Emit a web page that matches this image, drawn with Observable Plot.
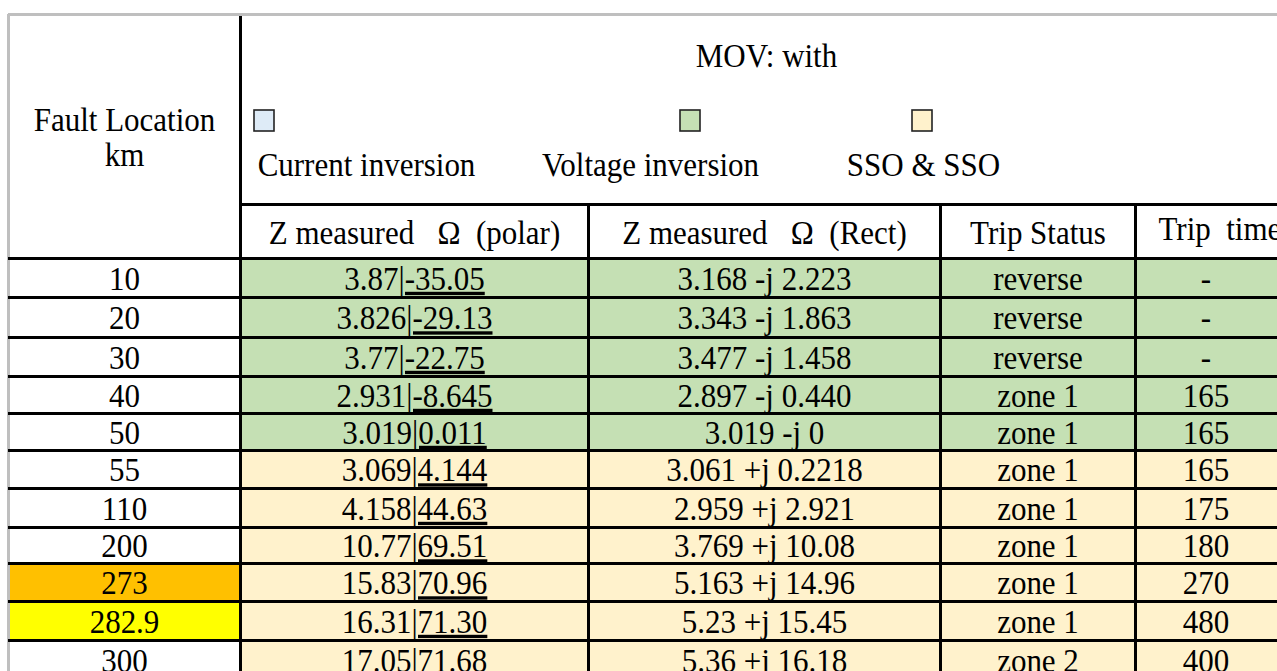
<!DOCTYPE html>
<html>
<head>
<meta charset="utf-8">
<script src="https://cdn.jsdelivr.net/npm/d3@7"></script>
<script src="https://cdn.jsdelivr.net/npm/@observablehq/plot@0.6"></script>
<style>
  html, body { margin: 0; padding: 0; background: #fff; overflow: hidden; }
  #chart svg { display: block; }
</style>
</head>
<body>
<div id="chart"></div>
<script>
// ---------- data ----------
const locations   = ["10", "20", "30", "40", "50", "55", "110", "200", "273", "282.9", "300"];
const polarMag    = ["3.87", "3.826", "3.77", "2.931", "3.019", "3.069", "4.158", "10.77", "15.83", "16.31", "17.05"];
const polarAngle  = ["-35.05", "-29.13", "-22.75", "-8.645", "0.011", "4.144", "44.63", "69.51", "70.96", "71.30", "71.68"];
const rectZ       = ["3.168 -j 2.223", "3.343 -j 1.863", "3.477 -j 1.458", "2.897 -j 0.440", "3.019 -j 0",
                     "3.061 +j 0.2218", "2.959 +j 2.921", "3.769 +j 10.08", "5.163 +j 14.96", "5.23 +j 15.45", "5.36 +j 16.18"];
const tripStatus  = ["reverse", "reverse", "reverse", "zone 1", "zone 1", "zone 1", "zone 1", "zone 1", "zone 1", "zone 1", "zone 2"];
const tripTime    = ["-", "-", "-", "165", "165", "165", "175", "180", "270", "480", "400"];
const rowMode     = ["Voltage inversion", "Voltage inversion", "Voltage inversion", "Voltage inversion", "Voltage inversion",
                     "SSO & SSO", "SSO & SSO", "SSO & SSO", "SSO & SSO", "SSO & SSO", "SSO & SSO"];
const legendLabels = ["Current inversion", "Voltage inversion", "SSO & SSO"];
const headerTitle  = "MOV: with";
const stubHeader   = ["Fault Location", "km"];
const colHeaders   = ["Z measured\u00a0\u00a0\u00a0Ω\u00a0\u00a0(polar)", "Z measured\u00a0\u00a0\u00a0Ω\u00a0\u00a0(Rect)", "Trip Status", "Trip\u00a0\u00a0time"];

// ---------- styles / layout ----------
const W = 1277, H = 671;
const modeColors = {"Current inversion": "#DEEBF7", "Voltage inversion": "#C5E0B4", "SSO & SSO": "#FFF2CC"};
const highlight = {"273": "#FFC000", "282.9": "#FFFF00"};
const colEdges = [8, 240, 588, 940, 1135, 1292];
const rowEdges = [258, 297, 337, 376, 413, 450, 488, 527, 563, 601, 640, 679];
const FS = 31;
const FONT = "'Liberation Serif', 'Times New Roman', serif";

const rows = locations.map((loc, i) => ({
  i, loc, polar: polarMag[i] + "|" + polarAngle[i], rect: rectZ[i],
  status: tripStatus[i], time: tripTime[i], mode: rowMode[i]
}));

// cells
const cells = [];
rows.forEach(r => {
  const y1 = rowEdges[r.i], y2 = rowEdges[r.i + 1];
  cells.push({x1: colEdges[0], x2: colEdges[1], y1, y2, fill: highlight[r.loc] || "#ffffff"});
  for (let j = 1; j < 5; j++) cells.push({x1: colEdges[j], x2: Math.min(colEdges[j + 1], W), y1, y2, fill: modeColors[r.mode]});
});

// texts
const texts = [];
const cx = j => (colEdges[j] + colEdges[j + 1]) / 2;
rows.forEach(r => {
  const cy = (rowEdges[r.i] + rowEdges[r.i + 1]) / 2 + 1;
  [r.loc, r.polar, r.rect, r.status, r.time].forEach((t, j) => texts.push({x: cx(j) - (j === 4 ? 8 : 0), y: cy, t, anchor: "middle"}));
});
texts.push({x: 124, y: 120, t: stubHeader[0], anchor: "middle"});
texts.push({x: 124, y: 155, t: stubHeader[1], anchor: "middle"});
texts.push({x: 766, y: 56, t: headerTitle, anchor: "middle"});
const legendLabelX = [366, 650, 923];
legendLabels.forEach((t, k) => texts.push({x: legendLabelX[k], y: 165, t, anchor: "middle"}));
texts.push({x: cx(1), y: 233, t: colHeaders[0], anchor: "middle"});
texts.push({x: cx(2), y: 233, t: colHeaders[1], anchor: "middle"});
texts.push({x: cx(3), y: 233, t: colHeaders[2], anchor: "middle"});
texts.push({x: 1158, y: 229, t: colHeaders[3], anchor: "start"});

// legend boxes
const boxX = [264, 690, 922];
const boxes = legendLabels.map((m, k) => ({x1: boxX[k] - 10, x2: boxX[k] + 10, y1: 110, y2: 131, fill: modeColors[m]}));

// lines
const hLines = rowEdges.slice(0, 11).map(y => ({y, x1: colEdges[0], x2: W}));
hLines.push({y: 204, x1: colEdges[1], x2: W});
const vLines = [{x: colEdges[1], y1: 16, y2: H}].concat([colEdges[2], colEdges[3], colEdges[4]].map(x => ({x, y1: 204, y2: H})));

const plot = Plot.plot({
  width: W, height: H, margin: 0,
  x: {domain: [0, W], range: [0, W], axis: null},
  y: {domain: [0, H], range: [0, H], axis: null},
  color: {type: "identity"},
  style: {fontFamily: FONT, background: "#fff", color: "#000"},
  marks: [
    Plot.rect(cells, {x1: "x1", x2: "x2", y1: "y1", y2: "y2", fill: "fill"}),
    Plot.ruleY([14], {x1: 8, x2: W, stroke: "#BFBFBF", strokeWidth: 3}),
    Plot.ruleX([8], {y1: 14, y2: H, stroke: "#BFBFBF", strokeWidth: 3}),
    Plot.ruleY(hLines, {y: "y", x1: "x1", x2: "x2", stroke: "#000", strokeWidth: 3}),
    Plot.ruleX(vLines, {x: "x", y1: "y1", y2: "y2", stroke: "#000", strokeWidth: 3}),
    Plot.rect(boxes, {x1: "x1", x2: "x2", y1: "y1", y2: "y2", fill: "fill", stroke: "#222", strokeWidth: 1.6}),
    Plot.text(texts.filter(d => d.anchor === "middle"), {x: "x", y: "y", text: "t", fontSize: FS, fill: "#000", textAnchor: "middle"}),
    Plot.text(texts.filter(d => d.anchor === "start"), {x: "x", y: "y", text: "t", fontSize: FS, fill: "#000", textAnchor: "start"})
  ]
});

// underline the angle part of polar values (angle symbol) and stretch glyphs vertically like the source font
d3.select(plot).selectAll("text").each(function() {
  const el = d3.select(this);
  const tr = el.attr("transform");
  if (tr) el.attr("transform", tr + " scale(1,1.08)");
  const s = this.textContent;
  if (s.includes("|")) {
    const [a, b] = s.split("|");
    el.text(null);
    el.append("tspan").text(a);
    el.append("tspan").attr("text-decoration", "underline").style("text-decoration", "underline").text("|" + b);
  }
});

document.getElementById("chart").appendChild(plot);
</script>
</body>
</html>
